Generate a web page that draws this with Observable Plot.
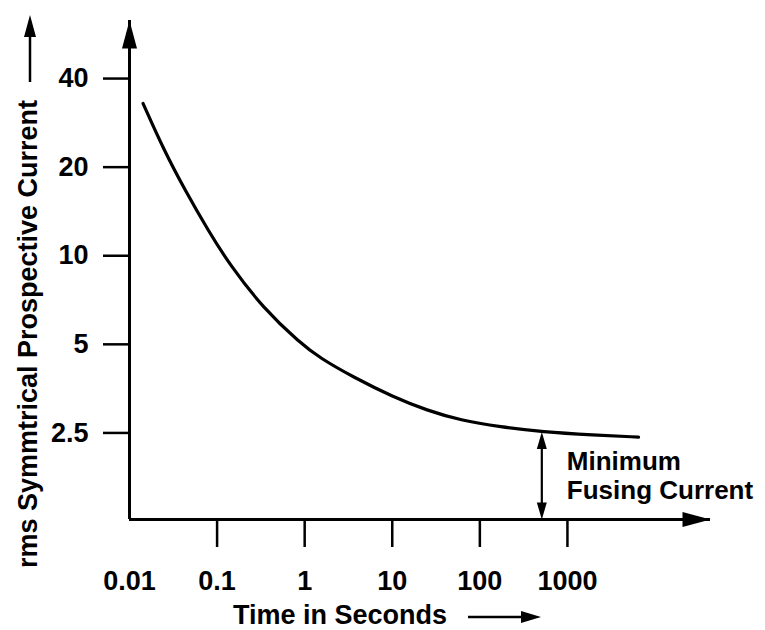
<!DOCTYPE html>
<html>
<head>
<meta charset="utf-8">
<script src="https://cdn.jsdelivr.net/npm/d3@7"></script>
<script src="https://cdn.jsdelivr.net/npm/@observablehq/plot@0.6"></script>
<style>
  html, body { margin: 0; padding: 0; background: #fff; }
</style>
</head>
<body>
<div id="chart"></div>
<script>
// ---- data ----
const timeSec   = [0.0143, 0.0248, 0.0431, 0.0789, 0.141, 0.336, 0.888, 1.50, 3.58, 10.3, 25.1, 59.9, 172, 518, 1980, 6480];
const currentA  = [32.9, 22.8, 16.7, 12.2, 9.27, 6.64, 5.05, 4.49, 3.87, 3.31, 2.98, 2.76, 2.62, 2.52, 2.46, 2.42];
const xTickVals = [0.1, 1, 10, 100, 1000];
const xLabelVals = [0.01, 0.1, 1, 10, 100, 1000];
const yTickVals = [2.5, 5, 10, 20, 40];
const xDomain = [0.01, 43000];
const yDomain = [1.27, 63];
const minFusingTime = 510;
const minFusingCurrent = 2.52;
const annotationText = "Minimum\nFusing Current";
const annotationY = 1.8;
const xTitle = "Time in Seconds";
const yTitle = "rms Symmtrical Prospective Current";

const curve = timeSec.map((t, i) => ({t, I: currentA[i]}));

// filled, elongated arrowhead pointing up with its tip at the origin
function headSymbol(len, wid) {
  return {draw(ctx) { ctx.moveTo(0, 0); ctx.lineTo(wid / 2, len); ctx.lineTo(-wid / 2, len); ctx.closePath(); }};
}
const bigHead = headSymbol(28, 15);
const smallHead = headSymbol(17, 10);

// decorative arrows next to the axis titles
function titleArrows(index, scales, values, dims) {
  const g = d3.create("svg:g");
  const ax = dims.marginLeft - 99;          // y-title arrow
  g.append("line").attr("x1", ax).attr("x2", ax).attr("y1", 82).attr("y2", 34)
    .attr("stroke", "black").attr("stroke-width", 2.5);
  g.append("path").attr("d", `M${ax},15L${ax + 6},37L${ax - 6},37Z`).attr("fill", "black");
  const ay = dims.height - 13;              // x-title arrow
  g.append("line").attr("x1", 468).attr("x2", 524).attr("y1", ay).attr("y2", ay)
    .attr("stroke", "black").attr("stroke-width", 2.5);
  g.append("path").attr("d", `M541,${ay}L521,${ay - 6}L521,${ay + 6}Z`).attr("fill", "black");
  return g.node();
}

const font = {fontSize: 27, fontWeight: "bold"};

const chart = Plot.plot({
  width: 765,
  height: 630,
  marginLeft: 129,
  marginRight: 55,
  marginTop: 20,
  marginBottom: 111,
  style: {fontFamily: "'Liberation Sans', Arial, Helvetica, sans-serif", fontSize: "27px", background: "white", color: "black"},
  x: {type: "log", domain: xDomain},
  y: {type: "log", domain: yDomain},
  marks: [
    // axis lines with arrowheads
    Plot.ruleY([yDomain[0]], {strokeWidth: 3}),
    Plot.ruleX([xDomain[0]], {strokeWidth: 3}),
    Plot.dot([{x: xDomain[1], y: yDomain[0]}], {x: "x", y: "y", symbol: bigHead, rotate: 90, fill: "black", stroke: "none"}),
    Plot.dot([{x: xDomain[0], y: yDomain[1]}], {x: "x", y: "y", symbol: bigHead, rotate: 0, fill: "black", stroke: "none"}),
    // x ticks and labels
    Plot.axisX({ticks: xTickVals, tickSize: 28, tickFormat: () => "", strokeWidth: 2.5}),
    Plot.axisX({ticks: xLabelVals, tickSize: 0, tickPadding: 51, tickFormat: d => String(d), ...font}),
    // y ticks and labels
    Plot.axisY({ticks: yTickVals, tickSize: 26, tickPadding: 15, tickFormat: d => String(d), strokeWidth: 2.5, ...font}),
    // curve
    Plot.line(curve, {x: "t", y: "I", curve: "basis", strokeWidth: 3.2, stroke: "black"}),
    // minimum fusing current annotation
    Plot.ruleX([{t: minFusingTime, lo: yDomain[0], hi: minFusingCurrent}], {x: "t", y1: "hi", y2: "lo", strokeWidth: 2.2, insetTop: 12, insetBottom: 12}),
    Plot.dot([{t: minFusingTime, I: minFusingCurrent}], {x: "t", y: "I", symbol: smallHead, rotate: 0, fill: "black", stroke: "none"}),
    Plot.dot([{t: minFusingTime, I: yDomain[0]}], {x: "t", y: "I", symbol: smallHead, rotate: 180, fill: "black", stroke: "none"}),
    Plot.text([annotationText], {x: minFusingTime, y: annotationY, dx: 25, textAnchor: "start", lineHeight: 1.12, fontSize: 26, fontWeight: "bold"}),
    // axis titles
    Plot.text([xTitle], {frameAnchor: "bottom", lineAnchor: "middle", textAnchor: "middle", dx: -80, dy: 96, ...font}),
    Plot.text([yTitle], {frameAnchor: "left", lineAnchor: "middle", textAnchor: "middle", dx: -101, dy: 64, rotate: -90, ...font}),
    titleArrows
  ]
});
document.getElementById("chart").appendChild(chart);
</script>
</body>
</html>
